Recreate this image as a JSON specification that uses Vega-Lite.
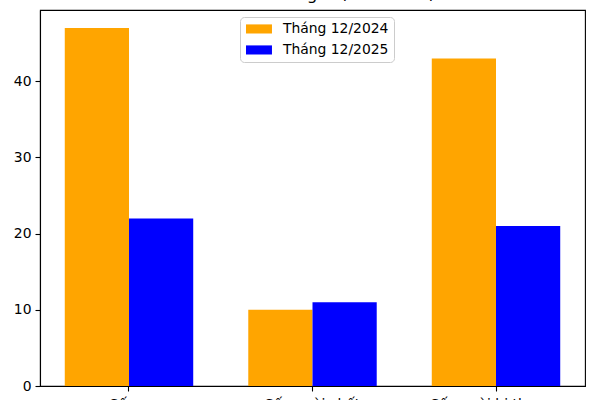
{
  "$schema": "https://vega.github.io/schema/vega-lite/v6.json",
  "width": 545,
  "height": 376,
  "autosize": {"type": "none"},
  "padding": {"left": 40, "top": 10, "right": 15, "bottom": 14},
  "title": {"text": "So sánh TNGT tháng 12/2024 - 12/2025", "fontSize": 16.7, "font": "DejaVu Sans", "fontWeight": "normal", "color": "black", "offset": 6},
  "data": {
    "values": [
      {"cat": "Số vụ", "period": "Tháng 12/2024", "value": 47},
      {"cat": "Số vụ", "period": "Tháng 12/2025", "value": 22},
      {"cat": "Số người chết", "period": "Tháng 12/2024", "value": 10},
      {"cat": "Số người chết", "period": "Tháng 12/2025", "value": 11},
      {"cat": "Số người bị thương", "period": "Tháng 12/2024", "value": 43},
      {"cat": "Số người bị thương", "period": "Tháng 12/2025", "value": 21}
    ]
  },
  "mark": {"type": "bar"},
  "encoding": {
    "x": {
      "field": "cat", "type": "nominal",
      "sort": ["Số vụ", "Số người chết", "Số người bị thương"],
      "scale": {"paddingInner": 0.3, "paddingOuter": 0.135},
      "axis": {"title": null, "labelAngle": 0, "grid": false, "labelPadding": 6}
    },
    "xOffset": {
      "field": "period", "type": "nominal",
      "sort": ["Tháng 12/2024", "Tháng 12/2025"],
      "scale": {"paddingInner": 0, "paddingOuter": 0}
    },
    "y": {
      "field": "value", "type": "quantitative",
      "scale": {"domain": [0, 49.35], "nice": false, "zero": true},
      "axis": {"title": null, "values": [0, 10, 20, 30, 40], "grid": false}
    },
    "color": {
      "field": "period", "type": "nominal",
      "sort": ["Tháng 12/2024", "Tháng 12/2025"],
      "scale": {"domain": ["Tháng 12/2024", "Tháng 12/2025"], "range": ["#FFA500", "#0000FF"]},
      "legend": {
        "title": null,
        "orient": "none",
        "legendX": 200,
        "legendY": 7,
        "fillColor": "rgba(255,255,255,0.8)",
        "strokeColor": "#cccccc",
        "cornerRadius": 4,
        "padding": 5,
        "symbolType": "M-0.92,-0.7H3.08V0.7H-0.92Z",
        "symbolSize": 169,
        "symbolStrokeWidth": 0,
        "symbolOpacity": 1,
        "labelFont": "DejaVu Sans",
        "labelFontSize": 13.9,
        "labelColor": "black",
        "labelOffset": 24,
        "rowPadding": 6
      }
    }
  },
  "config": {
    "view": {"stroke": "black", "strokeWidth": 1.1},
    "axis": {
      "domainColor": "black",
      "domainWidth": 1.1,
      "tickColor": "black",
      "tickWidth": 1.1,
      "tickSize": 5,
      "labelPadding": 4,
      "labelColor": "black",
      "labelFont": "DejaVu Sans",
      "labelFontSize": 13.9
    }
  }
}
